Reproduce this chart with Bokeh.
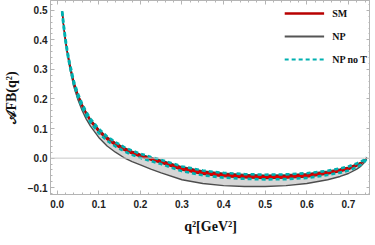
from bokeh.plotting import figure
from bokeh.models import (ColumnDataSource, Range1d, LinearAxis, Span, Legend, LegendItem,
                          SingleIntervalTicker, CustomJSTickFormatter)
from bokeh.embed import file_html
from bokeh.resources import INLINE

# ---- data ----
q2 = [0.012, 0.015, 0.02, 0.025, 0.03, 0.04, 0.05, 0.06, 0.07, 0.08, 0.10, 0.12, 0.14, 0.16,
      0.18, 0.20, 0.225, 0.25, 0.30, 0.35, 0.40, 0.45, 0.50, 0.55, 0.60, 0.65, 0.68, 0.70,
      0.72, 0.73, 0.74, 0.744]
sm_hi = [0.496, 0.456, 0.402, 0.357, 0.321, 0.258, 0.216, 0.182, 0.154, 0.131, 0.096, 0.070,
         0.051, 0.035, 0.022, 0.012, 0.001, -0.009, -0.031, -0.045, -0.053, -0.057, -0.059,
         -0.058, -0.054, -0.046, -0.038, -0.031, -0.021, -0.015, -0.006, 0.002]
sm_lo = [0.494, 0.454, 0.398, 0.353, 0.315, 0.252, 0.208, 0.174, 0.146, 0.123, 0.088, 0.062,
         0.043, 0.027, 0.014, 0.004, -0.007, -0.017, -0.041, -0.055, -0.063, -0.067, -0.069,
         -0.068, -0.064, -0.054, -0.046, -0.039, -0.027, -0.019, -0.008, 0.000]
np_hi = [0.496, 0.457, 0.403, 0.358, 0.322, 0.259, 0.217, 0.183, 0.155, 0.132, 0.098, 0.072,
         0.053, 0.037, 0.024, 0.014, 0.003, -0.007, -0.029, -0.043, -0.051, -0.055, -0.057,
         -0.056, -0.052, -0.044, -0.036, -0.030, -0.020, -0.014, -0.005, 0.002]
np_lo = [0.495, 0.452, 0.394, 0.347, 0.308, 0.242, 0.197, 0.161, 0.132, 0.108, 0.070, 0.041,
         0.020, 0.002, -0.012, -0.023, -0.037, -0.050, -0.073, -0.086, -0.093, -0.096, -0.096,
         -0.093, -0.086, -0.073, -0.062, -0.052, -0.037, -0.027, -0.012, 0.000]
nt_hi = [0.497, 0.458, 0.404, 0.359, 0.323, 0.260, 0.218, 0.184, 0.156, 0.133, 0.099, 0.073,
         0.054, 0.038, 0.025, 0.015, 0.004, -0.006, -0.028, -0.042, -0.050, -0.054, -0.056,
         -0.055, -0.051, -0.043, -0.035, -0.028, -0.018, -0.012, -0.004, 0.003]
nt_lo = [0.493, 0.452, 0.396, 0.351, 0.313, 0.250, 0.206, 0.172, 0.144, 0.121, 0.085, 0.059,
         0.040, 0.024, 0.011, 0.001, -0.010, -0.020, -0.044, -0.058, -0.066, -0.070, -0.072,
         -0.071, -0.067, -0.057, -0.049, -0.042, -0.030, -0.022, -0.010, -0.001]
series_labels = ["SM", "NP", "NP no T"]
x_label = "q²[GeV²]"
y_label = "𝒜FB(q²)"

src = ColumnDataSource(dict(x=q2, sm_hi=sm_hi, sm_lo=sm_lo, np_hi=np_hi, np_lo=np_lo,
                            nt_hi=nt_hi, nt_lo=nt_lo))
nan_src = ColumnDataSource(dict(x=[float("nan")], y=[float("nan")]))

p = figure(frame_width=320, frame_height=194, output_backend="svg", toolbar_location=None,
           x_range=Range1d(-0.016, 0.753), y_range=Range1d(-0.123, 0.533),
           x_axis_location=None, y_axis_location=None,
           min_border_left=39, min_border_right=0, min_border_top=0, min_border_bottom=0)
p.grid.visible = False
p.outline_line_color = "#b4b4b4"
p.background_fill_color = "white"
p.border_fill_color = "white"

fmt = CustomJSTickFormatter(code="""
    if (Math.abs(tick) < 1e-9) return '0.0';
    return tick.toFixed(1).replace('-', '\u2212');
""")
blank = CustomJSTickFormatter(code="return '';")

def style(ax, labelled):
    ax.axis_line_color = "#b4b4b4"
    ax.major_tick_line_color = "#b4b4b4"
    ax.minor_tick_line_color = "#b4b4b4"
    ax.major_tick_in = 4
    ax.major_tick_out = 0
    ax.minor_tick_in = 2
    ax.minor_tick_out = 0
    ax.major_label_text_font = "Liberation Sans"
    ax.major_label_text_font_style = "bold"
    ax.major_label_text_font_size = "10px"
    ax.major_label_text_color = "#222222"
    ax.axis_label_text_font = "Liberation Serif"
    ax.axis_label_text_font_style = "bold"
    ax.axis_label_text_font_size = "14px"
    ax.axis_label_text_color = "#111111"
    if not labelled:
        ax.major_label_standoff = 0

xb = LinearAxis(ticker=SingleIntervalTicker(interval=0.1, num_minor_ticks=5), formatter=fmt,
                axis_label=x_label, major_label_standoff=5, axis_label_standoff=8)
yl = LinearAxis(ticker=SingleIntervalTicker(interval=0.1, num_minor_ticks=5), formatter=fmt,
                axis_label=y_label, major_label_standoff=3, axis_label_standoff=6)
xt = LinearAxis(ticker=SingleIntervalTicker(interval=0.1, num_minor_ticks=5), formatter=blank)
yr = LinearAxis(ticker=SingleIntervalTicker(interval=0.1, num_minor_ticks=5), formatter=blank)
style(xb, True); style(yl, True); style(xt, False); style(yr, False)
p.add_layout(xb, "below")
p.add_layout(yl, "left")
p.add_layout(xt, "above")
p.add_layout(yr, "right")

p.add_layout(Span(location=0, dimension="width", line_color="#c8c8c8", line_width=1))

# NP band
p.varea(x="x", y1="np_lo", y2="np_hi", source=src, fill_color="#d6d6d6")
p.line("x", "np_lo", source=src, line_color="#4d4d4d", line_width=1.4)
p.line("x", "np_hi", source=src, line_color="#4d4d4d", line_width=1.2)
# SM band
p.varea(x="x", y1="sm_lo", y2="sm_hi", source=src, fill_color="#e00000")
p.line("x", "sm_lo", source=src, line_color="#b00000", line_width=1.2)
p.line("x", "sm_hi", source=src, line_color="#b00000", line_width=1.2)
# NP no T
p.line("x", "nt_hi", source=src, line_color="#00b0b0", line_width=2.6, line_dash="4 3")
p.line("x", "nt_lo", source=src, line_color="#00b0b0", line_width=2.6, line_dash="4 3")

# legend glyphs
l_sm = p.line("x", "y", source=nan_src, line_color="#b80000", line_width=2.5)
l_np = p.line("x", "y", source=nan_src, line_color="#555555", line_width=2.2)
l_nt = p.line("x", "y", source=nan_src, line_color="#00b0b0", line_width=2.2, line_dash="4 3")

legend = Legend(items=[LegendItem(label=series_labels[0], renderers=[l_sm]),
                       LegendItem(label=series_labels[1], renderers=[l_np]),
                       LegendItem(label=series_labels[2], renderers=[l_nt])],
                location="top_right", margin=3, padding=0, spacing=3,
                glyph_width=40, glyph_height=20, label_height=20, label_standoff=8,
                border_line_color=None, background_fill_alpha=0,
                label_text_font="Liberation Serif", label_text_font_style="bold",
                label_text_font_size="10px", label_text_color="#111111")
p.add_layout(legend)

open("out.html", "w").write(file_html(p, INLINE))
